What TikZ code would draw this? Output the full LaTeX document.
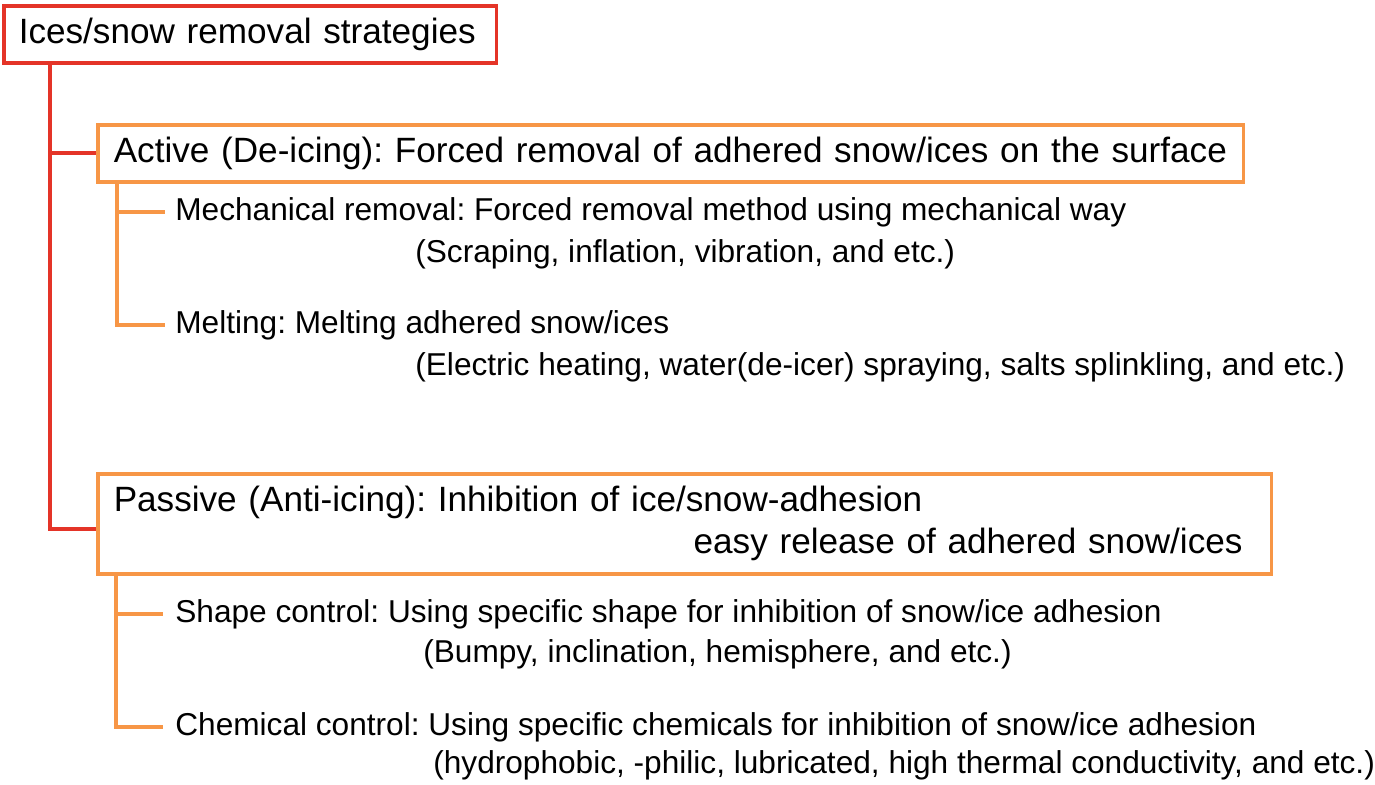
\documentclass[tikz,border=0pt]{standalone}
\usepackage{fontspec}
\setmainfont{Liberation Sans}
\usetikzlibrary{positioning, calc}
\definecolor{stratred}{RGB}{228,52,40}
\definecolor{stratorange}{RGB}{247,150,70}
\tikzstyle{rootbox} = [rectangle, draw=stratred, line width=2pt, anchor=north west, inner xsep=0.3cm, inner ysep=0pt, minimum height=1.14cm, align=left, font=\fontsize{20}{23.8}\selectfont\frenchspacing]
\tikzstyle{classbox} = [rectangle, draw=stratorange, line width=2pt, anchor=north west, inner xsep=0.32cm, inner ysep=0pt, align=left, font=\fontsize{20}{23.8}\selectfont\frenchspacing]
\tikzstyle{itemtext} = [anchor=base west, inner sep=0pt, font=\fontsize{18}{21.6}\selectfont\frenchspacing]
\tikzstyle{redline} = [draw=stratred, line width=2pt]
\tikzstyle{orangeline} = [draw=stratorange, line width=2pt]

\begin{document}
\begin{tikzpicture}[x=0.02cm, y=-0.02cm]
\useasboundingbox (0,0) rectangle (1375,784);

\node (strategies) [rootbox, text width=9.26cm] at (2,4) {Ices/snow removal strategies};

% active branch
\node (active) [classbox, text width=22.28cm, minimum height=1.14cm] at (96,123) {\mbox{Active (De-icing): Forced removal of adhered snow/ices on the surface}};
\node (mech) [itemtext] at (175,220) {Mechanical removal: Forced removal method using mechanical way};
\node (mechnote) [itemtext] at (415,262) {(Scraping, inflation, vibration, and etc.)};
\node (melt) [itemtext] at (175,333) {Melting: Melting adhered snow/ices};
\node (meltnote) [itemtext] at (415,375) {(Electric heating, water(de-icer) spraying, salts splinkling, and etc.)};

% passive branch
\node (passive) [classbox, text width=22.84cm, minimum height=2cm] at (96,472) {Passive (Anti-icing): Inhibition of ice/snow-adhesion\\\hspace*{\fill}easy release of adhered snow/ices\rule{0.26cm}{0pt}};
\node (shape) [itemtext] at (175,622) {Shape control: Using specific shape for inhibition of snow/ice adhesion};
\node (shapenote) [itemtext] at (423,662) {(Bumpy, inclination, hemisphere, and etc.)};
\node (chem) [itemtext] at (175,735) {Chemical control: Using specific chemicals for inhibition of snow/ice adhesion};
\node (chemnote) [itemtext] at (433,773) {(hydrophobic, -philic, lubricated, high thermal conductivity, and etc.)};

\draw [redline] ($(strategies.south west)+(48,0)$) |- (active.west);
\draw [redline] ($(strategies.south west)+(48,0)$) |- ($(passive.west)+(0,5)$);
\draw [orangeline] ($(active.south west)+(21,0)$) |- ($(mech.west)+(-10,0)$);
\draw [orangeline] ($(active.south west)+(21,0)$) |- ($(melt.west)+(-10,0)$);
\draw [orangeline] ($(passive.south west)+(20,0)$) |- ($(shape.west)+(-12,0)$);
\draw [orangeline] ($(passive.south west)+(20,0)$) |- ($(chem.west)+(-12,0)$);

\end{tikzpicture}
\end{document}
